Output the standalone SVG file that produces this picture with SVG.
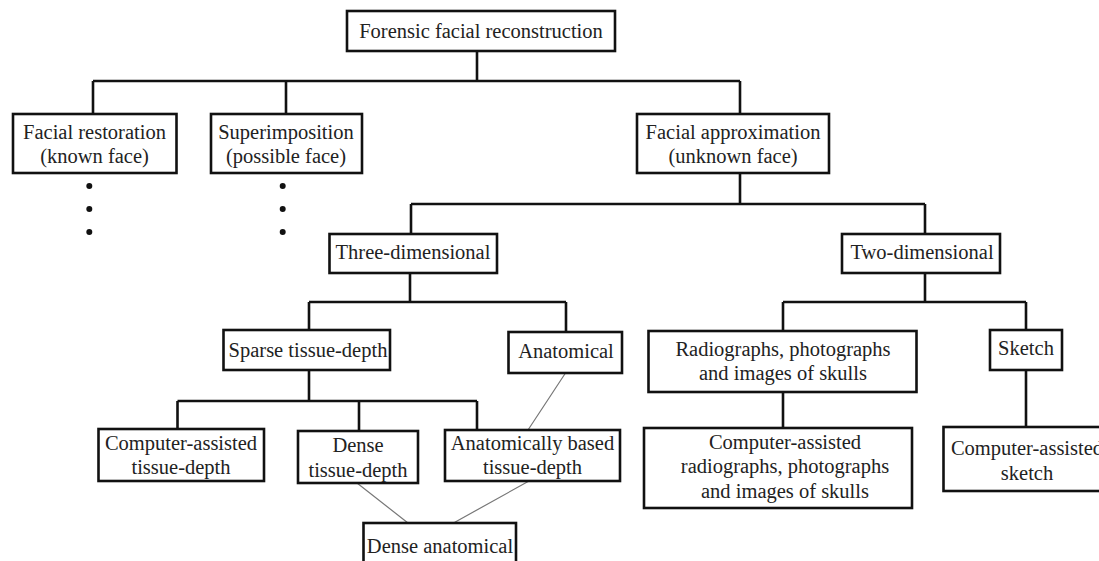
<svg xmlns="http://www.w3.org/2000/svg" width="1099" height="561" viewBox="0 0 1099 561">
<style>
  .box { fill: #fff; stroke: #111; stroke-width: 2.6; }
  .t { font-family: "Liberation Serif", "Times New Roman", serif; font-size: 20.5px; fill: #222; text-anchor: middle; }
  .c { fill: none; stroke: #111; stroke-width: 2.6; }
  .thin { fill: none; stroke: #777; stroke-width: 1.2; }
  .dot { fill: #111; }
</style>
<rect width="1099" height="561" fill="#fff"/>
<g id="connectors">
  <path class="c" d="M477 51 V81 M93 81 H740 M93 81 V114 M286 81 V114 M740 81 V114"/>
  <path class="c" d="M740 173 V204 M411 204 H925 M411 204 V234 M925 204 V234"/>
  <path class="c" d="M410 273 V302 M309 302 H566 M309 302 V330 M566 302 V332"/>
  <path class="c" d="M309 370 V401 M177.5 401 H477 M177.5 401 V429 M359 401 V431 M477 401 V430"/>
  <path class="c" d="M925 273 V302 M783 302 H1026 M783 302 V331 M1026 302 V330"/>
  <path class="c" d="M783 392 V428 M1026 370 V427"/>
  <path class="thin" d="M565.5 373 L528 430 M357 483 L408 523 M529 481 L453.5 523"/>
</g>
<g id="n-root"><rect class="box" x="347" y="11" width="268" height="40"/><text class="t" x="481" y="38">Forensic facial reconstruction</text></g>
<g id="n-restoration"><rect class="box" x="13" y="114" width="163.5" height="59"/><text class="t" x="94.5" y="138.5">Facial restoration</text><text class="t" x="94.5" y="163">(known face)</text></g>
<g id="n-restoration-dots"><circle class="dot" cx="89.3" cy="186" r="3"/><circle class="dot" cx="89.3" cy="209" r="3"/><circle class="dot" cx="89.3" cy="232" r="3"/></g>
<g id="n-superimposition"><rect class="box" x="211" y="114" width="151" height="59"/><text class="t" x="286" y="138.5">Superimposition</text><text class="t" x="286" y="163">(possible face)</text></g>
<g id="n-superimposition-dots"><circle class="dot" cx="282.7" cy="186" r="3"/><circle class="dot" cx="282.7" cy="209" r="3"/><circle class="dot" cx="282.7" cy="232" r="3"/></g>
<g id="n-approximation"><rect class="box" x="637" y="114" width="192" height="59"/><text class="t" x="733" y="138.5">Facial approximation</text><text class="t" x="733" y="163">(unknown face)</text></g>
<g id="n-three"><rect class="box" x="329.5" y="234" width="167.5" height="39"/><text class="t" x="413" y="259">Three-dimensional</text></g>
<g id="n-two"><rect class="box" x="842" y="234" width="158" height="39"/><text class="t" x="922" y="259">Two-dimensional</text></g>
<g id="n-sparse"><rect class="box" x="223.5" y="330" width="166.5" height="40"/><text class="t" x="308" y="357">Sparse tissue-depth</text></g>
<g id="n-anatomical"><rect class="box" x="508.5" y="332" width="113.5" height="41"/><text class="t" x="566" y="358">Anatomical</text></g>
<g id="n-radiographs"><rect class="box" x="648.5" y="331" width="268" height="61"/><text class="t" x="783" y="356">Radiographs, photographs</text><text class="t" x="783" y="380">and images of skulls</text></g>
<g id="n-sketch"><rect class="box" x="990" y="330" width="72" height="40"/><text class="t" x="1026" y="355">Sketch</text></g>
<g id="n-cat"><rect class="box" x="98.5" y="429" width="165.5" height="52"/><text class="t" x="181" y="449.5">Computer-assisted</text><text class="t" x="181" y="474">tissue-depth</text></g>
<g id="n-dense"><rect class="box" x="298" y="431" width="120" height="52"/><text class="t" x="358" y="452">Dense</text><text class="t" x="358" y="476.5">tissue-depth</text></g>
<g id="n-abtd"><rect class="box" x="445" y="430" width="175" height="51"/><text class="t" x="532.5" y="450">Anatomically based</text><text class="t" x="532.5" y="474">tissue-depth</text></g>
<g id="n-car"><rect class="box" x="644" y="428" width="268" height="80"/><text class="t" x="785" y="448.5">Computer-assisted</text><text class="t" x="785" y="473">radiographs, photographs</text><text class="t" x="785" y="497.5">and images of skulls</text></g>
<g id="n-cas"><rect class="box" x="943.5" y="427" width="168" height="64"/><text class="t" x="1027" y="455">Computer-assisted</text><text class="t" x="1027" y="480">sketch</text></g>
<g id="n-denseanat"><rect class="box" x="363.5" y="523" width="152.5" height="50"/><text class="t" x="440" y="553">Dense anatomical</text></g>
</svg>
